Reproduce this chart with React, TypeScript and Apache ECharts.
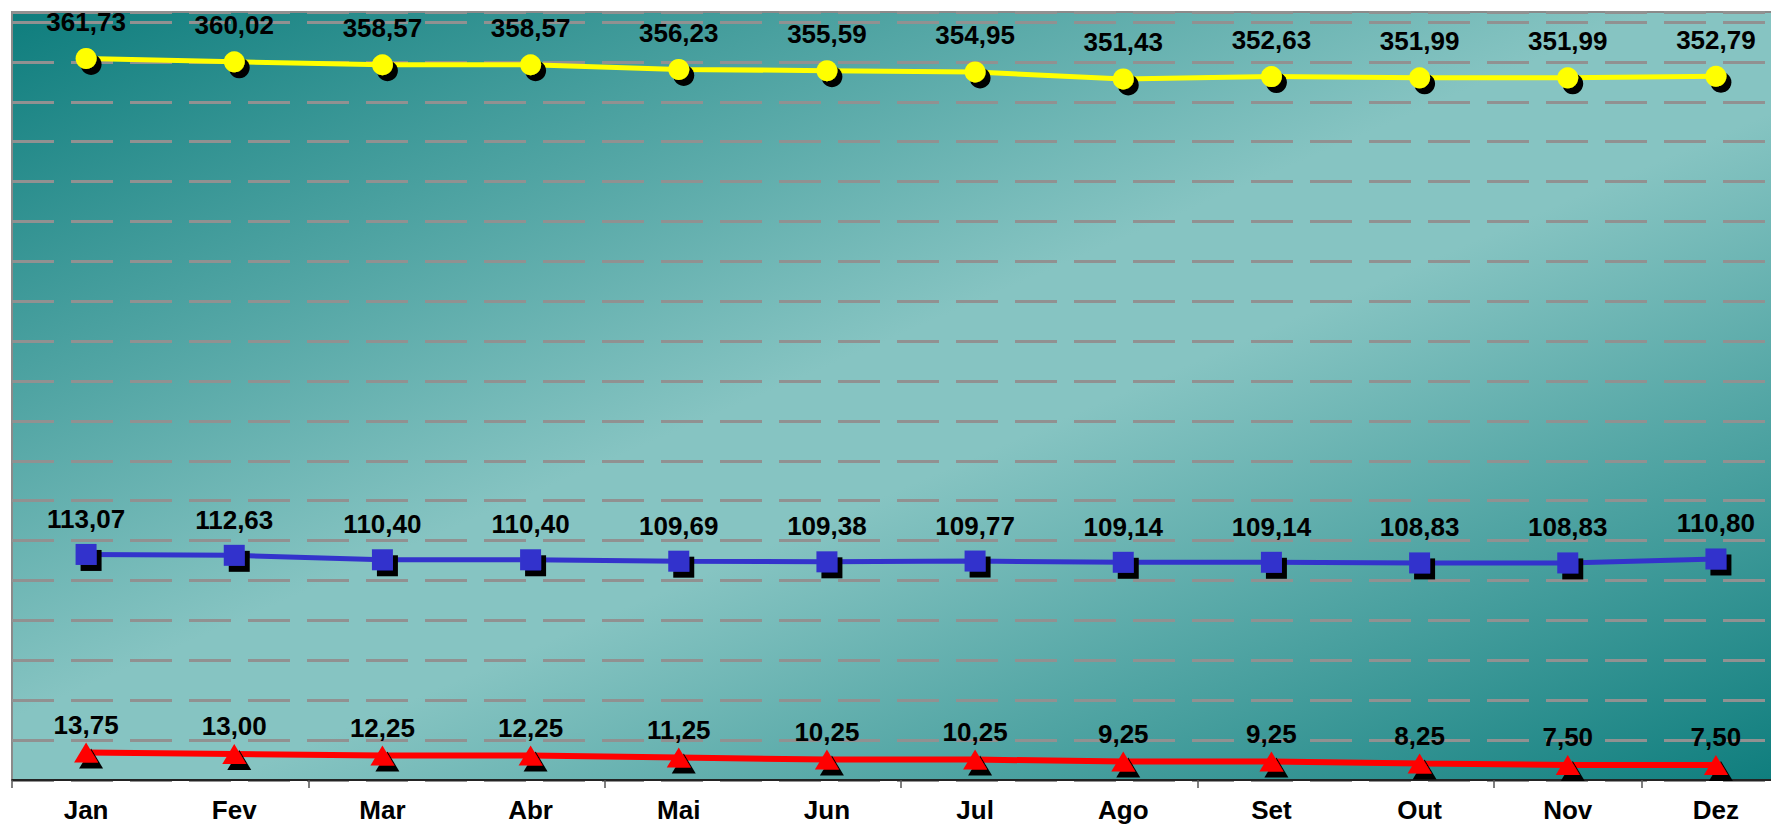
import React, { useEffect, useRef } from "react";
import * as echarts from "echarts";

const months = ["Jan", "Fev", "Mar", "Abr", "Mai", "Jun", "Jul", "Ago", "Set", "Out", "Nov", "Dez"];
const yellowValues = [361.73, 360.02, 358.57, 358.57, 356.23, 355.59, 354.95, 351.43, 352.63, 351.99, 351.99, 352.79];
const blueValues = [113.07, 112.63, 110.4, 110.4, 109.69, 109.38, 109.77, 109.14, 109.14, 108.83, 108.83, 110.8];
const redValues = [13.75, 13.0, 12.25, 12.25, 11.25, 10.25, 10.25, 9.25, 9.25, 8.25, 7.5, 7.5];

const FONT = '"Liberation Sans", Arial, sans-serif';
const fmt = (v: number) => v.toFixed(2).replace(".", ",");

export default function App() {
  const ref = useRef<HTMLDivElement>(null);
  useEffect(() => {
    if (!ref.current) return;
    const chart = echarts.init(ref.current, undefined, { renderer: "svg" });
    const shadow = { shadowColor: "#000", shadowOffsetX: 5, shadowOffsetY: 6, shadowBlur: 0 };
    const label = (distance: number) => ({
      show: true,
      position: "top" as const,
      distance,
      formatter: (p: any) => fmt(p.value),
      color: "#000",
      fontFamily: FONT,
      fontWeight: "bold" as const,
      fontSize: 26,
    });
    chart.setOption({
      animation: false,
      grid: {
        left: 12,
        top: 12,
        right: 0,
        bottom: 44,
        show: true,
        borderColor: "#8a8a8a",
        borderWidth: 2,
        backgroundColor: new echarts.graphic.LinearGradient(0, 0, 1, 1, [
          { offset: 0, color: "#0e7d7d" },
          { offset: 0.46, color: "#86c4c2" },
          { offset: 0.56, color: "#86c4c2" },
          { offset: 1, color: "#0e7d7d" },
        ]),
      },
      xAxis: {
        type: "category",
        data: months,
        boundaryGap: true,
        axisLine: { show: true, lineStyle: { color: "#000", width: 1.5 } },
        axisTick: { show: true, interval: 1, length: 8, lineStyle: { color: "#555", width: 1.5 } },
        axisLabel: {
          interval: 0,
          margin: 17,
          color: "#000",
          fontFamily: FONT,
          fontWeight: "bold",
          fontSize: 26,
        },
        splitLine: { show: false },
      },
      yAxis: {
        type: "value",
        min: 0,
        max: 385,
        interval: 20,
        axisLine: { show: false },
        axisTick: { show: false },
        axisLabel: { show: false },
        splitLine: { show: true, lineStyle: { color: "#919191", width: 3, type: [42, 17] } },
      },
      series: [
        {
          type: "line",
          data: yellowValues,
          symbol: "circle",
          symbolSize: 21,
          lineStyle: { color: "#ffff00", width: 5 },
          itemStyle: { color: "#ffff00", ...shadow },
          label: label(13),
        },
        {
          type: "line",
          data: blueValues,
          symbol: "rect",
          symbolSize: 21,
          lineStyle: { color: "#3333cc", width: 5 },
          itemStyle: { color: "#3333cc", ...shadow },
          label: label(12),
        },
        {
          type: "line",
          data: redValues,
          symbol: "triangle",
          symbolSize: [24, 20],
          lineStyle: { color: "#ff0000", width: 6 },
          itemStyle: { color: "#ff0000", ...shadow },
          label: label(5),
        },
      ],
    });
    return () => chart.dispose();
  }, []);
  return (
    <div style={{ position: "fixed", left: 0, top: 0, width: 1771, height: 824, overflow: "hidden", background: "#fff" }}>
      <div ref={ref} style={{ width: 1790, height: 824 }} />
    </div>
  );
}
